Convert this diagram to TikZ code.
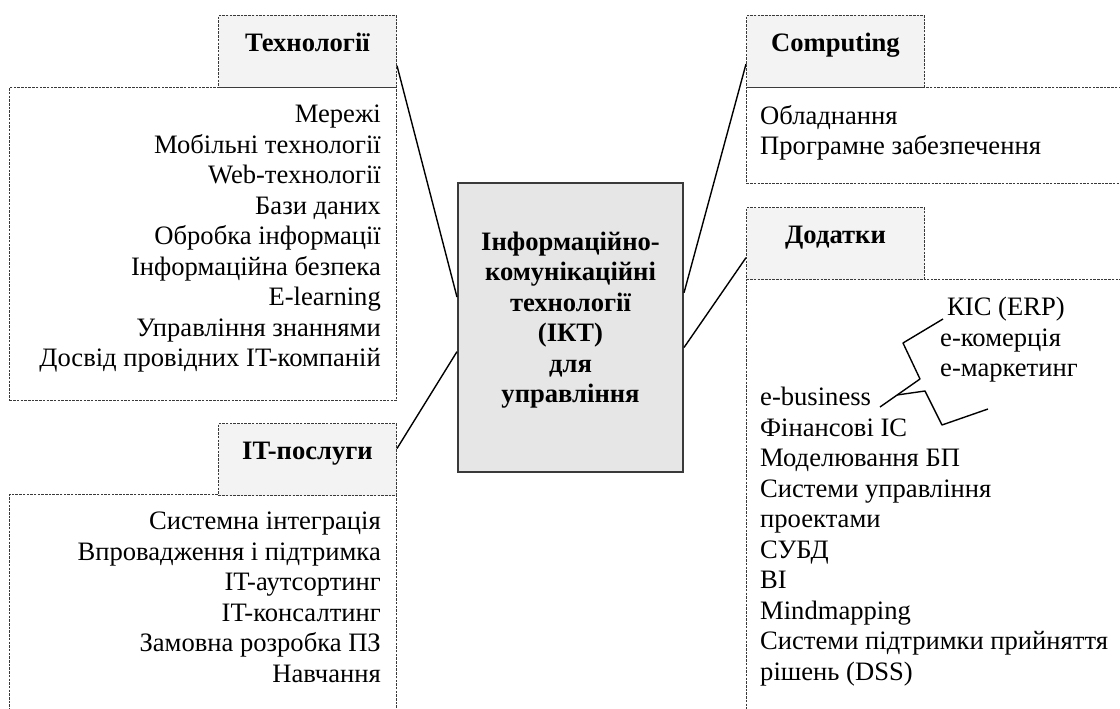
\documentclass[tikz,border=0pt]{standalone}
\usepackage{fontspec}
\setmainfont{Liberation Serif}
\usetikzlibrary{positioning}

\definecolor{hdrgray}{HTML}{F3F3F3}
\definecolor{ictgray}{HTML}{E6E6E6}
\definecolor{edgegray}{HTML}{3A3A3A}

\begin{document}
\begin{tikzpicture}[x=1pt, y=-1pt, font=\fontsize{26.6}{30.5}\selectfont,
  dashbox/.style={draw=edgegray, line width=1pt, dash pattern=on 2.5pt off 1.2pt, inner sep=0pt, anchor=north west},
  hdrbox/.style={dashbox, fill=hdrgray, minimum width=178pt, minimum height=72pt, font=\fontsize{26.6}{30.5}\selectfont\bfseries, text height=10pt, text depth=10pt},
  listtext/.style={inner sep=0pt},
  link/.style={black, line width=1.4pt}]

\useasboundingbox (0,0) rectangle (1120,709);
\clip (0,0) rectangle (1120,709);

% content boxes
\node[dashbox, minimum width=387pt, minimum height=313pt] (techbox) at (9,87) {};
\node[dashbox, minimum width=387pt, minimum height=300pt] (itbox) at (9,494) {};
\node[dashbox, minimum width=500pt, minimum height=96pt] (compbox) at (746,87) {};
\node[dashbox, minimum width=500pt, minimum height=500pt] (appsbox) at (746,279) {};

% headers
\node[hdrbox] (tech) at (218,15) {Технології};
\node[hdrbox] (itserv) at (218,423) {IT-послуги};
\node[hdrbox] (comp) at (746,15) {Computing};
\node[hdrbox] (apps) at (746,207) {Додатки};

% lists
\node[listtext, anchor=north east, align=right] (techlist) at (381,105) {Мережі\\Мобільні технології\\Web-технології\\Бази даних\\Обробка інформації\\Інформаційна безпека\\E-learning\\Управління знаннями\\Досвід провідних IT-компаній};
\node[listtext, anchor=north east, align=right] (itlist) at (381,512) {Системна інтеграція\\Впровадження і підтримка\\IT-аутсортинг\\IT-консалтинг\\Замовна розробка ПЗ\\Навчання};
\node[listtext, anchor=north west, align=left] (complist) at (760,105) {Обладнання\\Програмне забезпечення};
\node[listtext, anchor=north west, align=left] (ecomlist) at (940,297) {\hspace{7pt}КІС (ERP)\\е-комерція\\е-маркетинг};
\node[listtext, anchor=north west, align=left] (appslist) at (760,387) {e-business\\Фінансові ІС\\Моделювання БП\\Системи управління\\проектами\\СУБД\\BI\\Mindmapping\\Системи підтримки прийняття\\рішень (DSS)};

% centre
\node[draw=edgegray, line width=2pt, fill=ictgray, minimum width=225pt, minimum height=289pt] (ict) at (570.5,327.5) {};
\node[listtext, align=center, font=\fontsize{26.6}{30.5}\selectfont\bfseries, yshift=7.5pt] (icttext) at (ict.center) {Інформаційно-\\комунікаційні\\технології\\(ІКТ)\\для\\управління};

% links
\draw[link] (tech.-9) -- (ict.165); %tech
\draw[link] (itserv.7) -- (ict.192); %it
\draw[link] (comp.188) -- (ict.17); %comp
\draw[link] (apps.189) -- (ict.-10); %apps

% brace
\draw[link, line join=round] (943,319) -- (903,343) -- (920,379) -- (880,407);
\draw[link, line join=round] (897,395) -- (925,391) -- (942,425) -- (988,409);

\end{tikzpicture}
\end{document}
